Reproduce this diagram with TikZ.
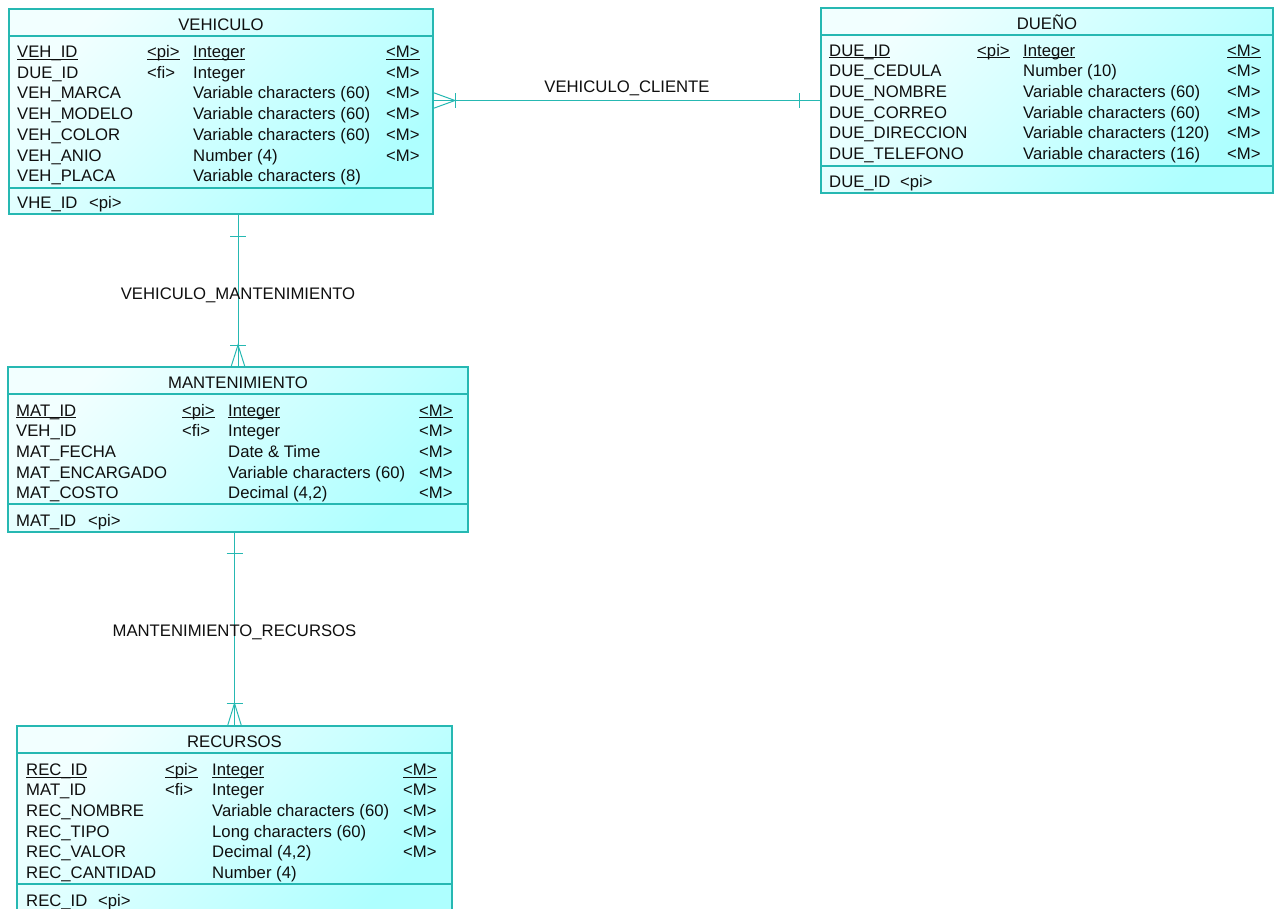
\documentclass[tikz,border=0pt]{standalone}
\usepackage{fontspec}
\setmainfont{Liberation Sans}
\usetikzlibrary{fit}
\definecolor{erline}{RGB}{38,184,178}
\definecolor{erlight}{RGB}{242,255,255}
\definecolor{erdark}{RGB}{174,255,255}
\definecolor{ertext}{RGB}{15,15,15}
\newcommand{\pk}[1]{\underline{\smash{#1}}}
\begin{document}
\begin{tikzpicture}[x=1pt,y=-1pt,
    tbl/.style={draw=erline, line width=1.2pt, inner sep=0pt, outer sep=0pt,
      top color=erlight, bottom color=erdark, shading angle=45},
    sep/.style={draw=erline, line width=1.2pt},
    rel/.style={draw=erline, line width=1pt},
    cell/.style={anchor=base west, inner sep=0pt, text=ertext, font=\fontsize{16.7}{19}\selectfont},
    lbl/.style={anchor=base, inner sep=0pt, text=ertext, font=\fontsize{16.7}{19}\selectfont}]
  \useasboundingbox (0,0) rectangle (1277,908);

  % VEHICULO
  \node[tbl, fit={(9,9) (433,214)}] (veh) {};
  \draw[sep] ([yshift=-27pt]veh.north west) -- ([yshift=-27pt]veh.north east);
  \draw[sep] ([yshift=26pt]veh.south west) -- ([yshift=26pt]veh.south east);
  \node[lbl] (vehT) at (221,30) {VEHICULO};
  \foreach \t [count=\i] in {\pk{VEH\_ID},DUE\_ID,VEH\_MARCA,VEH\_MODELO,VEH\_COLOR,VEH\_ANIO,VEH\_PLACA}
    \node[cell] (vehN\i) at (17,{36.8+20.7*\i}) {\t};
  \node[cell] (vehK1) at (147,57.5) {\pk{<pi>}};
  \node[cell] (vehK2) at (147,78.2) {<fi>};
  \foreach \t [count=\i] in {\pk{Integer},Integer,Variable characters (60),Variable characters (60),
      Variable characters (60),Number (4),Variable characters (8)}
    \node[cell] (vehD\i) at (193,{36.8+20.7*\i}) {\t};
  \foreach \t [count=\i] in {\pk{<M>},<M>,<M>,<M>,<M>,<M>}
    \node[cell] (vehM\i) at (386,{36.8+20.7*\i}) {\t};
  \node[cell] (vehF) at (17,208.7) {VHE\_ID};
  \node[cell] (vehFk) at (89,208.7) {<pi>};

  % DUENO
  \node[tbl, fit={(821,8) (1273,193)}] (due) {};
  \draw[sep] ([yshift=-27pt]due.north west) -- ([yshift=-27pt]due.north east);
  \draw[sep] ([yshift=27pt]due.south west) -- ([yshift=27pt]due.south east);
  \node[lbl] (dueT) at (1047,29.3) {DUEÑO};
  \foreach \t [count=\i] in {\pk{DUE\_ID},DUE\_CEDULA,DUE\_NOMBRE,DUE\_CORREO,DUE\_DIRECCION,DUE\_TELEFONO}
    \node[cell] (dueN\i) at (829,{35.3+20.7*\i}) {\t};
  \node[cell] (dueK1) at (977,56) {\pk{<pi>}};
  \foreach \t [count=\i] in {\pk{Integer},Number (10),Variable characters (60),Variable characters (60),
      Variable characters (120),Variable characters (16)}
    \node[cell] (dueD\i) at (1023,{35.3+20.7*\i}) {\t};
  \foreach \t [count=\i] in {\pk{<M>},<M>,<M>,<M>,<M>,<M>}
    \node[cell] (dueM\i) at (1227,{35.3+20.7*\i}) {\t};
  \node[cell] (dueF) at (829,187.7) {DUE\_ID};
  \node[cell] (dueFk) at (900,187.7) {<pi>};

  % MANTENIMIENTO
  \node[tbl, fit={(8,367) (468,532)}] (man) {};
  \draw[sep] ([yshift=-27pt]man.north west) -- ([yshift=-27pt]man.north east);
  \draw[sep] ([yshift=28pt]man.south west) -- ([yshift=28pt]man.south east);
  \node[lbl] (manT) at (238,388) {MANTENIMIENTO};
  \foreach \t [count=\i] in {\pk{MAT\_ID},VEH\_ID,MAT\_FECHA,MAT\_ENCARGADO,MAT\_COSTO}
    \node[cell] (manN\i) at (16,{395.3+20.7*\i}) {\t};
  \node[cell] (manK1) at (182,416) {\pk{<pi>}};
  \node[cell] (manK2) at (182,436.7) {<fi>};
  \foreach \t [count=\i] in {\pk{Integer},Integer,Date \& Time,Variable characters (60),{Decimal (4,2)}}
    \node[cell] (manD\i) at (228,{395.3+20.7*\i}) {\t};
  \foreach \t [count=\i] in {\pk{<M>},<M>,<M>,<M>,<M>}
    \node[cell] (manM\i) at (419,{395.3+20.7*\i}) {\t};
  \node[cell] (manF) at (16,526) {MAT\_ID};
  \node[cell] (manFk) at (88,526) {<pi>};

  % RECURSOS
  \node[tbl, fit={(17,726) (452,916)}] (rec) {};
  \draw[sep] ([yshift=-27pt]rec.north west) -- ([yshift=-27pt]rec.north east);
  \draw[sep] ([yshift=-158pt]rec.north west) -- ([yshift=-158pt]rec.north east);
  \node[lbl] (recT) at (234.5,747.7) {RECURSOS};
  \foreach \t [count=\i] in {\pk{REC\_ID},MAT\_ID,REC\_NOMBRE,REC\_TIPO,REC\_VALOR,REC\_CANTIDAD}
    \node[cell] (recN\i) at (26,{754.7+20.6*\i}) {\t};
  \node[cell] (recK1) at (165,775.3) {\pk{<pi>}};
  \node[cell] (recK2) at (165,795.9) {<fi>};
  \foreach \t [count=\i] in {\pk{Integer},Integer,Variable characters (60),Long characters (60),
      {Decimal (4,2)},Number (4)}
    \node[cell] (recD\i) at (212,{754.7+20.6*\i}) {\t};
  \foreach \t [count=\i] in {\pk{<M>},<M>,<M>,<M>,<M>}
    \node[cell] (recM\i) at (403,{754.7+20.6*\i}) {\t};
  \node[cell] (recF) at (26,906) {REC\_ID};
  \node[cell] (recFk) at (98,906) {<pi>};

  % VEHICULO_CLIENTE
  \coordinate (vc) at (due.west -| veh.east);
  \draw[rel] (vc) -- (due.west) node[lbl, midway, yshift=8.5pt] {VEHICULO\_CLIENTE};
  \draw[rel] ([yshift=8pt]vc) -- ([xshift=22pt]vc) -- ([yshift=-8pt]vc);
  \draw[rel] ([xshift=22pt,yshift=7.5pt]vc) -- ([xshift=22pt,yshift=-7.5pt]vc);
  \draw[rel] ([xshift=-22pt,yshift=7.5pt]due.west) -- ([xshift=-22pt,yshift=-7.5pt]due.west);

  % VEHICULO_MANTENIMIENTO
  \coordinate (vm) at (man.north |- veh.south);
  \draw[rel] (vm) -- (man.north) node[lbl, midway, yshift=-8.5pt] {VEHICULO\_MANTENIMIENTO};
  \draw[rel] ([xshift=-8pt,yshift=-22.7pt]vm) -- ([xshift=8pt,yshift=-22.7pt]vm);
  \draw[rel] ([xshift=-8pt,yshift=22pt]man.north) -- ([xshift=8pt,yshift=22pt]man.north);
  \draw[rel] ([xshift=-7pt]man.north) -- ([yshift=22pt]man.north) -- ([xshift=7pt]man.north);

  % MANTENIMIENTO_RECURSOS
  \coordinate (mr) at (rec.north |- man.south);
  \draw[rel] (mr) -- (rec.north) node[lbl, midway, yshift=-7pt] {MANTENIMIENTO\_RECURSOS};
  \draw[rel] ([xshift=-8pt,yshift=-21.3pt]mr) -- ([xshift=8pt,yshift=-21.3pt]mr);
  \draw[rel] ([xshift=-8pt,yshift=22.7pt]rec.north) -- ([xshift=8pt,yshift=22.7pt]rec.north);
  \draw[rel] ([xshift=-7pt]rec.north) -- ([yshift=22.7pt]rec.north) -- ([xshift=7pt]rec.north);
\end{tikzpicture}
\end{document}
